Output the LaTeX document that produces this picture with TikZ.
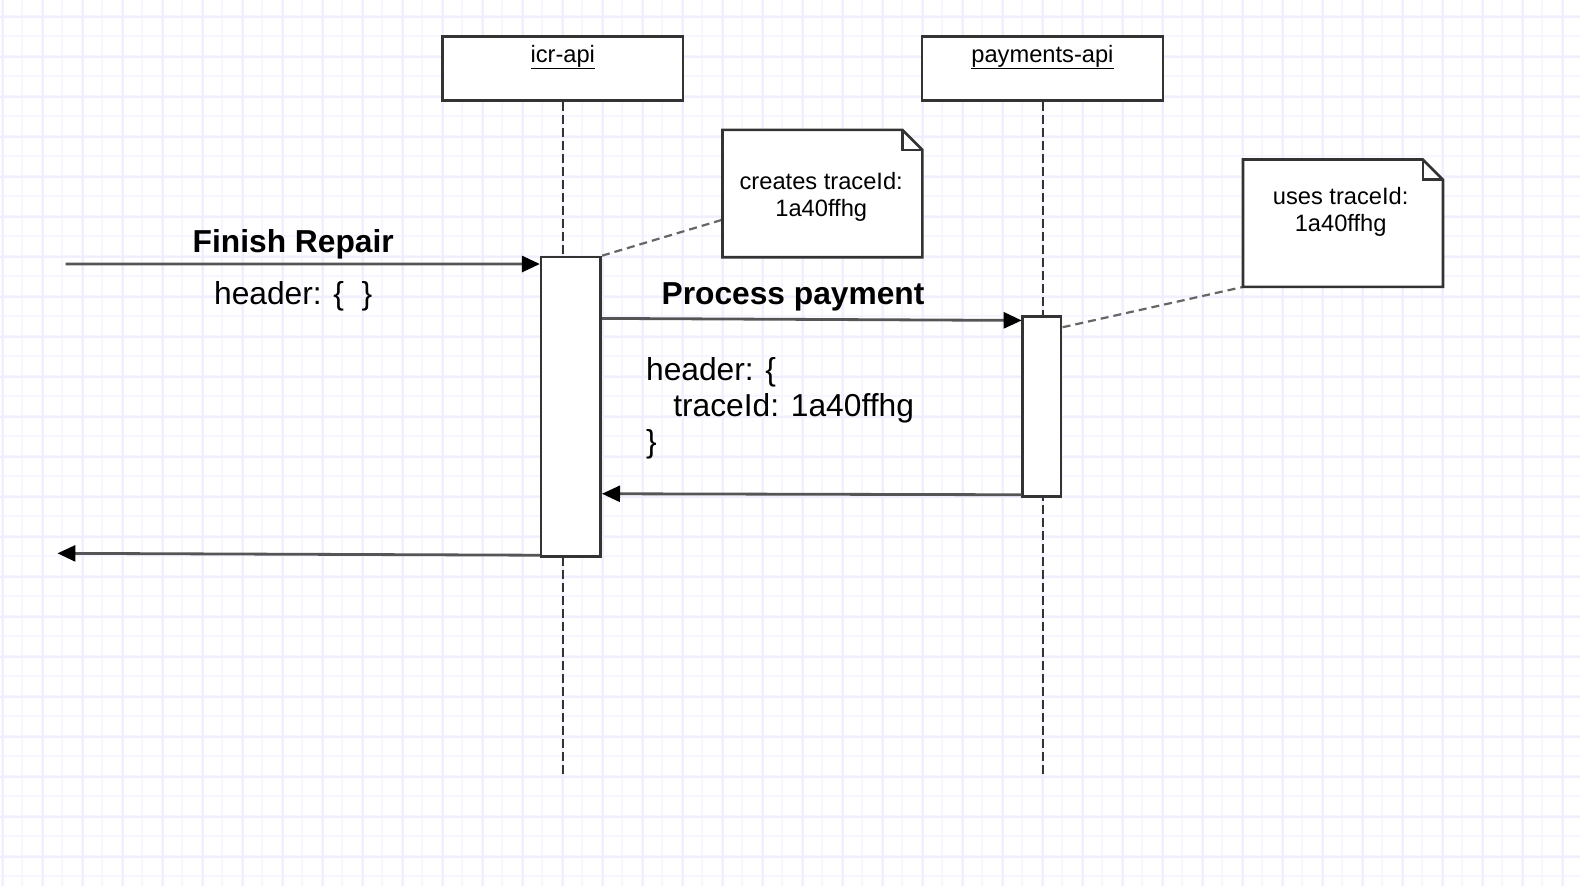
\documentclass[tikz,border=0pt]{standalone}
\usepackage{fontspec}
\setmainfont{Liberation Sans}
\usetikzlibrary{arrows.meta,calc}
\definecolor{gridminor}{HTML}{F7F6FE}
\definecolor{gridmajor}{HTML}{F0EFFD}
\definecolor{boxline}{HTML}{333333}
\definecolor{msgline}{HTML}{555555}
\definecolor{noteline}{HTML}{666666}
\tikzset{
  actorbox/.style={draw=boxline, line width=2.6bp, fill=white, minimum width=239bp, minimum height=64bp, inner sep=0pt},
  actortext/.style={font=\fontsize{23.5bp}{27bp}\selectfont, inner sep=0pt},
  actbox/.style={draw=boxline, line width=2.6bp, fill=white, inner sep=0pt},
  lifeline/.style={draw=boxline, line width=2.2bp, dash pattern=on 9bp off 4bp},
  msg/.style={draw=msgline, line width=2.8bp, -{Triangle[length=18bp,width=16bp,fill=black,color=black]}},
  notebody/.style={inner sep=0pt, minimum width=198bp, minimum height=126bp},
  notetext/.style={font=\fontsize{23.5bp}{27bp}\selectfont, align=center, inner sep=0pt},
  noteedge/.style={draw=boxline, line width=2.6bp, fill=white, line join=miter},
  notelink/.style={draw=noteline, line width=2.2bp, dash pattern=on 8bp off 5bp},
  bigbold/.style={font=\fontsize{31.5bp}{35.5bp}\selectfont\bfseries, inner sep=0pt},
  bigtext/.style={font=\fontsize{31.5bp}{35.5bp}\selectfont, inner sep=0pt, align=left},
}
\begin{document}
\begin{tikzpicture}[x=1bp,y=-1bp,scale=1.00765,transform shape]
\useasboundingbox (0,0) rectangle (1568,887.2);
\fill[white] (0,0) rectangle (1568,887.2);
% grid (in original pixel units)
\begin{scope}[scale=0.99241]
\foreach \x in {2,22,...,1580} {\draw[gridminor, line width=1.5bp] (\x,0) -- (\x,886);}
\foreach \y in {16,36,...,886} {\draw[gridminor, line width=1.5bp] (0,\y) -- (1580,\y);}
\foreach \x in {3,43,...,1580} {\draw[gridmajor, line width=2bp] (\x,0) -- (\x,886);}
\foreach \y in {17,57,...,886} {\draw[gridmajor, line width=2bp] (0,\y) -- (1580,\y);}
\end{scope}

% actors
\node[actorbox] (icr) at (558.5,68) {};
\node[actortext] (icrlabel) at (558.5,56.5) {\underline{icr-api}};
\node[actorbox] (pay) at (1034.5,68) {};
\node[actortext] (paylabel) at (1034.5,56.5) {\underline{payments-api}};

\coordinate (icrEnd) at (558.5,770);
\coordinate (payEnd) at (1034.5,770);
\draw[lifeline] (icr.south) -- (icrEnd);
\draw[lifeline] (pay.south) -- (payEnd);

% activations
\node[actbox, minimum width=59bp, minimum height=297bp] (a1) at (566.5,403.5) {};
\node[actbox, minimum width=38bp, minimum height=179bp] (a2) at (1034,403.5) {};

% notes
\node[notebody] (n1) at (816,192) {};
\node[notebody] (n2) at (1332.5,221.5) {};
\draw[notelink] (a1.north east) -- ([yshift=-26bp]n1.west);
\draw[notelink] ([yshift=-12bp]a2.north east) -- (n2.south west);
\foreach \n in {n1,n2} {
  \draw[noteedge] (\n.south west) -- (\n.north west) -- ([xshift=-20bp]\n.north east)
     -- ([yshift=-20bp]\n.north east) -- (\n.south east) -- cycle;
  \draw[noteedge, fill=none] ([xshift=-20bp]\n.north east) -- ([xshift=-20bp,yshift=-20bp]\n.north east) -- ([yshift=-20bp]\n.north east);
}
\node[notetext] (n1t) at (815,195.5) {creates traceId:\\1a40ffhg};
\node[notetext] (n2t) at (1330.5,210.5) {uses traceId:\\1a40ffhg};

% messages
\coordinate (start1) at (65,262);
\draw[msg] (start1) -- (a1.west |- 0,262);
\node[bigbold] (fr) at (291,242) {Finish Repair};
\node[bigtext] (frh) at (291,294) {header: \{\ \ \}};

\draw[msg] (a1.east |- 0,316) -- (a2.west |- 0,318);
\node[bigbold] (pp) at (787,294.5) {Process payment};
\node[bigtext, anchor=north west] (pph) at (641,355) {header: \{\\\hspace*{27bp}traceId: 1a40ffhg\\\}};

\draw[msg] (a2.west |- 0,491) -- (a1.east |- 0,490);
\coordinate (end1) at (57,549);
\draw[msg] (a1.west |- 0,551) -- (end1);
\end{tikzpicture}
\end{document}
